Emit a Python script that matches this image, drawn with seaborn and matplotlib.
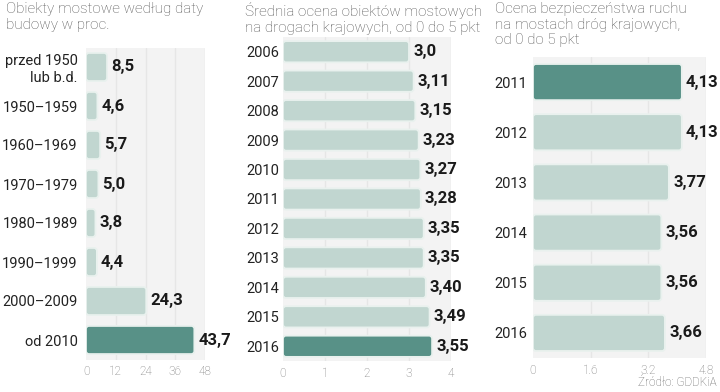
# three small bar panels about bridges on national roads (GDDKiA)

import numpy as np
import pandas as pd
import matplotlib
matplotlib.use("Agg")
import matplotlib.pyplot as plt
from matplotlib.patches import FancyBboxPatch
import seaborn as sns

# panel 1: share of bridges by construction date (%)
age_cats = ["przed 1950\nlub b.d.", "1950–1959", "1960–1969", "1970–1979",
            "1980–1989", "1990–1999", "2000–2009", "od 2010"]
age_vals = [8.5, 4.6, 5.7, 5.0, 3.8, 4.4, 24.3, 43.7]
age_labels = ["8,5", "4,6", "5,7", "5,0", "3,8", "4,4", "24,3", "43,7"]
age_ticks = [0, 12, 24, 36, 48]

# panel 2: average bridge rating, 0-5 pts
rate_years = ["2006", "2007", "2008", "2009", "2010", "2011",
              "2012", "2013", "2014", "2015", "2016"]
rate_vals = [3.0, 3.11, 3.15, 3.23, 3.27, 3.28, 3.35, 3.35, 3.40, 3.49, 3.55]
rate_labels = ["3,0", "3,11", "3,15", "3,23", "3,27", "3,28",
               "3,35", "3,35", "3,40", "3,49", "3,55"]
rate_ticks = [0, 1, 2, 3, 4]

# panel 3: traffic safety rating on bridges, 0-5 pts
safe_years = ["2011", "2012", "2013", "2014", "2015", "2016"]
safe_vals = [4.13, 4.13, 3.77, 3.56, 3.56, 3.66]
safe_labels = ["4,13", "4,13", "3,77", "3,56", "3,56", "3,66"]
safe_ticks = [0, 1.6, 3.2, 4.8]

LIGHT = "#bdd9d1"
DARK = "#4e9b8d"
BG = "#f3f3f3"
GRID = "#e6e6e6"

sns.set_theme(style="white")
plt.rcParams["font.family"] = ["Roboto", "DejaVu Sans"]

fig = plt.figure(figsize=(7.2, 3.92), dpi=100)


def round_bars(ax, r_px=3.0):
    bbox = ax.get_window_extent()
    x0, x1 = ax.get_xlim()
    y0, y1 = ax.get_ylim()
    xppu = bbox.width / abs(x1 - x0)
    yppu = bbox.height / abs(y1 - y0)
    for p in list(ax.patches):
        x, y = p.get_xy()
        w, h = p.get_width(), p.get_height()
        if h < 0:
            y, h = y + h, -h
        fb = FancyBboxPatch((x, y), w, h,
                            boxstyle=f"round,pad=0,rounding_size={r_px / xppu}",
                            mutation_aspect=xppu / yppu,
                            facecolor=p.get_facecolor(), edgecolor="#e9f1ee",
                            linewidth=1.3, zorder=3)
        p.remove()
        ax.add_patch(fb)


def panel(rect, cats, vals, labels, ticks, hi, xmax, cat_pad):
    ax = fig.add_axes(rect)
    colors = [DARK if i == hi else LIGHT for i in range(len(cats))]
    df = pd.DataFrame({"cat": cats, "val": vals})
    sns.barplot(data=df, x="val", y="cat", hue="cat", palette=colors,
                legend=False, orient="h", width=0.72, ax=ax)
    ax.set_facecolor(BG)
    ax.set_xlim(0, xmax)
    ax.set_ylim(len(cats) - 0.5, -0.5)
    ax.set_xticks(ticks)
    ax.set_xticklabels([f"{t:g}" for t in ticks])
    for t in ticks[1:]:
        ax.axvline(t, color=GRID, lw=1, zorder=1)
    ax.set_xlabel("")
    ax.set_ylabel("")
    for s in ax.spines.values():
        s.set_visible(False)
    ax.tick_params(axis="x", length=0, pad=4, labelsize=8.5, labelcolor="#777777")
    ax.tick_params(axis="y", length=0, pad=cat_pad, labelsize=10.5, labelcolor="#222222")
    for lab in ax.get_xticklabels():
        lab.set_fontweight("light")
    for i, (v, lab) in enumerate(zip(vals, labels)):
        ax.annotate(lab, (v, i), xytext=(3, 0), textcoords="offset points",
                    ha="left", va="center", fontsize=12, fontweight="bold",
                    color="#1a1a1a", clip_on=False)
    round_bars(ax)
    return ax


panel([86 / 720, 1 - 359.5 / 392, 119 / 720, 312 / 392],
      age_cats, age_vals, age_labels, age_ticks, 7, 48, 6)
panel([283 / 720, 1 - 361 / 392, 168 / 720, 324 / 392],
      rate_years, rate_vals, rate_labels, rate_ticks, 10, 4, 3)
panel([533 / 720, 1 - 358 / 392, 173 / 720, 301 / 392],
      safe_years, safe_vals, safe_labels, safe_ticks, 0, 4.8, 4)

title_kw = dict(fontsize=11, color="#555555", fontweight="light",
                va="top", ha="left", linespacing=1.15)
fig.text(6 / 720, 1 - 2 / 392, "Obiekty mostowe według daty\nbudowy w proc.", **title_kw)
fig.text(245 / 720, 1 - 2 / 392,
         "Średnia ocena obiektów mostowych\nna drogach krajowych, od 0 do 5 pkt", **title_kw)
fig.text(495 / 720, 1 - 2 / 392,
         "Ocena bezpieczeństwa ruchu\nna mostach dróg krajowych,\nod 0 do 5 pkt", **title_kw)
fig.text(717 / 720, 1 - 383 / 392, "Źródło: GDDKiA", fontsize=8.5,
         color="#666666", fontweight="light", ha="right", va="center")

fig.savefig("out.png", dpi=100)
